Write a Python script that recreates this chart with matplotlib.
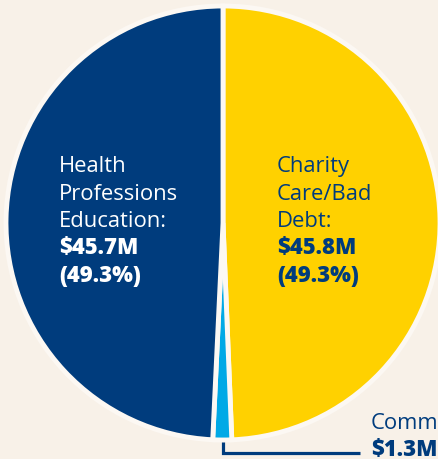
import matplotlib.pyplot as plt

labels = ["Charity\nCare/Bad\nDebt:", "Community", "Health\nProfessions\nEducation:"]
amounts = [45.8, 1.3, 45.7]
value_text = ["$45.8M\n(49.3%)", "$1.3M", "$45.7M\n(49.3%)"]
colors = ["#ffd100", "#00a9e6", "#003c7d"]

bg = "#f8f1e8"
navy = "#003c7d"
W, H = 438, 460

fig = plt.figure(figsize=(W / 100, H / 100), dpi=100, facecolor=bg)
ax = fig.add_axes([0, 0, 1, 1])
ax.axis("off")

ax.pie(amounts, colors=colors, startangle=90, counterclock=False,
       center=(223, H - 224), radius=217,
       wedgeprops=dict(edgecolor="#fcf8f3", linewidth=3.5))
ax.set_xlim(0, W)
ax.set_ylim(0, H)
ax.set_aspect("equal")

plt.rcParams["font.family"] = ["Open Sans", "DejaVu Sans"]
fs = 15.8
step = 27.5


def put(x, y0, head, val, color):
    lines = head.split("\n")
    for i, ln in enumerate(lines):
        ax.text(x, H - (y0 + i * step), ln, fontsize=fs, color=color, va="baseline")
    for j, ln in enumerate(val.split("\n")):
        ax.text(x, H - (y0 + (len(lines) + j) * step), ln, fontsize=fs,
                color=color, fontweight="heavy", va="baseline")


put(59, 172, labels[2], value_text[2], "white")
put(277, 172, labels[0], value_text[0], navy)
put(371, 429, labels[1], value_text[1], navy)

# leader line for the small slice
ax.plot([223, 223, 360], [H - 443, H - 454, H - 454], color=navy, lw=2.3,
        solid_joinstyle="miter", solid_capstyle="butt")

fig.savefig("out.png", dpi=100, facecolor=bg)
